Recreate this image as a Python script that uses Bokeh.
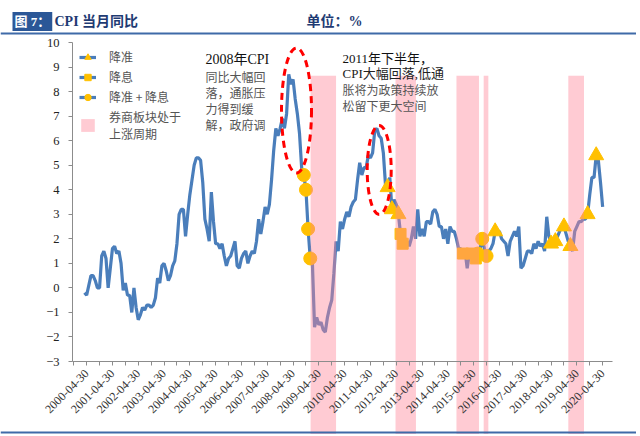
import math
from bokeh.plotting import figure
from bokeh.models import (Range1d, FixedTicker, Label, Legend, LegendItem,
                          ColumnDataSource, Span)
from bokeh.embed import file_html
from bokeh.resources import INLINE

# ---------------- data ----------------
first_year, first_month = 2000, 3   # first monthly observation: 2000-03
cpi = [
    # 2000 (Mar-Dec)
    -0.2, -0.3, 0.1, 0.5, 0.5, 0.3, 0.0, 0.0, 1.3, 1.5,
    # 2001
    1.2, 0.0, 0.8, 1.6, 1.7, 1.4, 1.5, 1.0, -0.1, 0.2, -0.3, -0.3,
    # 2002
    -1.0, 0.0, -0.8, -1.3, -1.1, -0.8, -0.9, -0.7, -0.7, -0.8, -0.7, -0.4,
    # 2003
    0.4, 0.2, 0.9, 1.0, 0.7, 0.3, 0.5, 0.9, 1.1, 1.8, 3.0, 3.2,
    # 2004
    3.2, 2.1, 3.0, 3.8, 4.4, 5.0, 5.3, 5.3, 5.2, 4.3, 2.8, 2.4,
    # 2005
    1.9, 3.9, 2.7, 1.8, 1.8, 1.6, 1.8, 1.3, 0.9, 1.2, 1.3, 1.6,
    # 2006
    1.9, 0.9, 0.8, 1.2, 1.4, 1.5, 1.0, 1.3, 1.5, 1.4, 1.9, 2.8,
    # 2007
    2.2, 2.7, 3.3, 3.0, 3.4, 4.4, 5.6, 6.5, 6.2, 6.5, 6.9, 6.5,
    # 2008
    7.1, 8.7, 8.3, 8.5, 7.7, 7.1, 6.3, 4.9, 4.6, 4.0, 2.4, 1.2,
    # 2009
    1.0, -1.6, -1.2, -1.5, -1.4, -1.7, -1.8, -1.2, -0.8, -0.5, 0.6, 1.9,
    # 2010
    1.5, 2.7, 2.4, 2.8, 3.1, 2.9, 3.3, 3.5, 3.6, 4.4, 5.1, 4.6,
    # 2011
    4.9, 4.9, 5.4, 5.3, 5.5, 6.4, 6.5, 6.2, 6.1, 5.5, 4.2, 4.1,
    # 2012
    4.5, 3.2, 3.6, 3.4, 3.0, 2.2, 1.8, 2.0, 1.9, 1.7, 2.0, 2.5,
    # 2013
    2.0, 3.2, 2.1, 2.4, 2.1, 2.7, 2.7, 2.6, 3.1, 3.2, 3.0, 2.5,
    # 2014
    2.5, 2.0, 2.4, 1.8, 2.5, 2.3, 2.3, 2.0, 1.6, 1.6, 1.4, 1.5,
    # 2015
    0.8, 1.4, 1.4, 1.5, 1.2, 1.4, 1.6, 2.0, 1.6, 1.3, 1.5, 1.6,
    # 2016
    1.8, 2.3, 2.3, 2.3, 2.0, 1.9, 1.8, 1.3, 1.9, 2.1, 2.3, 2.1,
    # 2017
    2.5, 0.8, 0.9, 1.2, 1.5, 1.5, 1.4, 1.8, 1.6, 1.9, 1.7, 1.8,
    # 2018
    1.5, 2.9, 2.1, 1.8, 1.8, 1.9, 2.1, 2.3, 2.5, 2.5, 2.2, 1.9,
    # 2019
    1.7, 1.5, 2.3, 2.5, 2.7, 2.7, 2.8, 2.8, 3.0, 3.8, 4.5, 4.5,
    # 2020 (Jan-Apr)
    5.4, 5.2, 4.3, 3.3,
]

rrr_cut_months = ["2011-12", "2012-02", "2012-05", "2016-02", "2018-04",
                  "2018-06", "2018-10", "2019-01", "2019-09", "2020-01"]
rate_cut_months = ["2012-06", "2012-07", "2014-11", "2015-03", "2015-05"]
both_cut_months = ["2008-09", "2008-10", "2008-11", "2008-12", "2015-06",
                   "2015-08", "2015-10"]

band_starts = ["2009-01-05", "2012-04-20", "2014-08-31", "2015-09-20", "2019-01-01"]
band_ends = ["2009-12-31", "2013-02-05", "2015-07-15", "2015-11-25", "2019-08-10"]

tick_labels = ["2000-04-30", "2001-04-30", "2002-04-30", "2003-04-30",
               "2004-04-30", "2005-04-30", "2006-04-30", "2007-04-30",
               "2008-04-30", "2009-04-30", "2010-04-30", "2011-04-30",
               "2012-04-30", "2013-04-30", "2014-04-30", "2015-04-30",
               "2016-04-30", "2017-04-30", "2018-04-30", "2019-04-30",
               "2020-04-30"]
y_ticks = [-3, -2, -1, 0, 1, 2, 3, 4, 5, 6, 7, 8, 9, 10]

# ---------------- helpers ----------------
DAYS = [31, 29, 31, 30, 31, 30, 31, 31, 30, 31, 30, 31]


def month_index(ym):
    y, m = int(ym[:4]), int(ym[5:7])
    return (y - first_year) * 12 + (m - first_month)


def date_index(d):
    y, m, dd = int(d[:4]), int(d[5:7]), int(d[8:10])
    return month_index(d[:7]) + dd / DAYS[m - 1] - 1


xs = list(range(len(cpi)))

# canvas-pixel <-> data helpers (frame covers the whole canvas)
X0, DX = 84.0, 2.15
Y10, DY = 42.0, 24.54


def px2x(px):
    return (px - X0) / DX


def py2y(py):
    return 10 - (py - Y10) / DY


W, H = 636, 434
p = figure(width=W, height=H, output_backend="svg", toolbar_location=None,
           x_range=Range1d(px2x(0), px2x(W)),
           y_range=Range1d(py2y(H), py2y(0)),
           min_border=0, min_border_left=0, min_border_right=0,
           min_border_top=0, min_border_bottom=0, title=None)
p.outline_line_color = None
p.xgrid.visible = False
p.ygrid.visible = False
p.background_fill_color = "white"

# axes positioned inside the frame
xa = p.xaxis[0]
xa.fixed_location = -3
xa.bounds = (px2x(72), px2x(612))
tick_pos = [month_index(t[:7]) for t in tick_labels]
minor_pos = [t + 6 for t in tick_pos[:-1]] + [tick_pos[0] - 6]
xa.ticker = FixedTicker(ticks=tick_pos, minor_ticks=minor_pos)
xa.major_label_overrides = {t: lab for t, lab in zip(tick_pos, tick_labels)}
xa.major_label_orientation = math.pi / 4
xa.major_label_text_font = "Liberation Serif"
xa.major_label_text_font_size = "12px"
xa.major_label_text_color = "#333333"
xa.axis_line_color = "#8c8c8c"
xa.major_tick_line_color = "#8c8c8c"
xa.minor_tick_line_color = "#8c8c8c"
xa.major_tick_out = 4
xa.major_tick_in = 0
xa.minor_tick_out = 4
xa.minor_tick_in = 0
xa.major_label_standoff = 6

ya = p.yaxis[0]
ya.fixed_location = px2x(72)
ya.bounds = (-3, 10)
ya.ticker = FixedTicker(ticks=y_ticks)
ya.major_label_text_font = "Liberation Serif"
ya.major_label_text_font_size = "12.5px"
ya.major_label_text_color = "#222222"
ya.axis_line_color = "#8c8c8c"
ya.major_tick_line_color = "#8c8c8c"
ya.major_tick_out = 4
ya.major_tick_in = 0
ya.minor_tick_line_color = None
ya.major_label_standoff = 9

# CPI line
line_r = p.line(xs, cpi, line_color="#4a7ebb", line_width=3.2)

# policy markers
MK = "#ffc000"
tri_src = ColumnDataSource(dict(x=[month_index(m) for m in rrr_cut_months],
                                y=[cpi[month_index(m)] for m in rrr_cut_months]))
sq_src = ColumnDataSource(dict(x=[month_index(m) for m in rate_cut_months],
                               y=[cpi[month_index(m)] for m in rate_cut_months]))
ci_src = ColumnDataSource(dict(x=[month_index(m) for m in both_cut_months],
                               y=[cpi[month_index(m)] for m in both_cut_months]))
tri_r = p.scatter("x", "y", source=tri_src, marker="triangle", size=15,
                  fill_color=MK, line_color=MK)
sq_r = p.scatter("x", "y", source=sq_src, marker="square", size=11,
                 fill_color=MK, line_color=MK)
ci_r = p.scatter("x", "y", source=ci_src, marker="circle", size=13,
                 fill_color=MK, line_color=MK)

# broker-sector up-cycle bands (drawn over the line, translucent)
band_src = ColumnDataSource(dict(left=[date_index(d) for d in band_starts],
                                 right=[date_index(d) for d in band_ends]))
band_r = p.quad(left="left", right="right", top=8.65, bottom=py2y(H),
                source=band_src, fill_color="#ff8496", fill_alpha=0.42,
                line_color=None)

# dashed ellipses highlighting CPI falls
p.ellipse(x=[px2x(296), px2x(378.7)], y=[py2y(110), py2y(169.5)],
          width=[30 / DX, 24 / DX], height=[125 / DY, 89 / DY],
          fill_color=None, line_color="#ff0000", line_width=3,
          line_dash="7 5")

# legend
legend = Legend(items=[
    LegendItem(label="降准", renderers=[line_r, tri_r]),
    LegendItem(label="降息", renderers=[line_r, sq_r]),
    LegendItem(label="降准 + 降息", renderers=[line_r, ci_r]),
    LegendItem(label="券商板块处于\n上涨周期", renderers=[band_r]),
], location=(79, H - 142), orientation="vertical")
legend.label_text_font = "Noto Sans CJK SC"
legend.label_text_font_size = "12px"
legend.label_text_color = "#555555"
legend.glyph_width = 17
legend.glyph_height = 16
legend.label_standoff = 13
legend.spacing = 3
legend.padding = 4
legend.margin = 0
legend.border_line_color = None
legend.background_fill_alpha = 0
p.add_layout(legend, "center")

SER = "Liberation Serif, Noto Sans CJK SC"
CJK = "Noto Sans CJK SC"
TXT = "#555555"


def add_text(text, px, py, color=TXT, style="normal", size="12px", font=CJK):
    p.add_layout(Label(x=px2x(px), y=py2y(py), text=text, text_font=font,
                       text_font_size=size, text_color=color,
                       text_font_style=style, text_baseline="middle",
                       text_align="left"))


# annotation 1
add_text("2008年CPI", 205, 59, color="#111111", size="14px", font=SER)
for i, line in enumerate(["同比大幅回", "落，通胀压", "力得到缓", "解，政府调"]):
    add_text(line, 205, 75.7 + 16 * i)
# annotation 2
add_text("2011年下半年，", 342, 57.7, color="#111111", size="13px", font=SER)
add_text("CPI大幅回落,低通", 342, 73, color="#222222", size="13px", font=SER)
add_text("胀将为政策持续放", 342, 89)
add_text("松留下更大空间", 342, 105)

# header
p.add_layout(Label(x=px2x(12), y=py2y(21), text="图 7：", text_font=SER,
                   text_font_size="13px", text_font_style="bold",
                   text_color="white", text_baseline="middle",
                   background_fill_color="#2b5797", padding=2))
add_text("CPI 当月同比", 54, 21, color="#1f3b73", style="bold", size="14px",
         font=SER)
add_text("单位：%", 306, 21, color="#1f3b73", style="bold", size="14px",
         font=SER)
p.add_layout(Span(location=py2y(33), dimension="width",
                  line_color="#3f6aa8", line_width=2))
p.add_layout(Span(location=py2y(432), dimension="width",
                  line_color="#3f6aa8", line_width=2))

open("out.html", "w").write(file_html(p, INLINE))
